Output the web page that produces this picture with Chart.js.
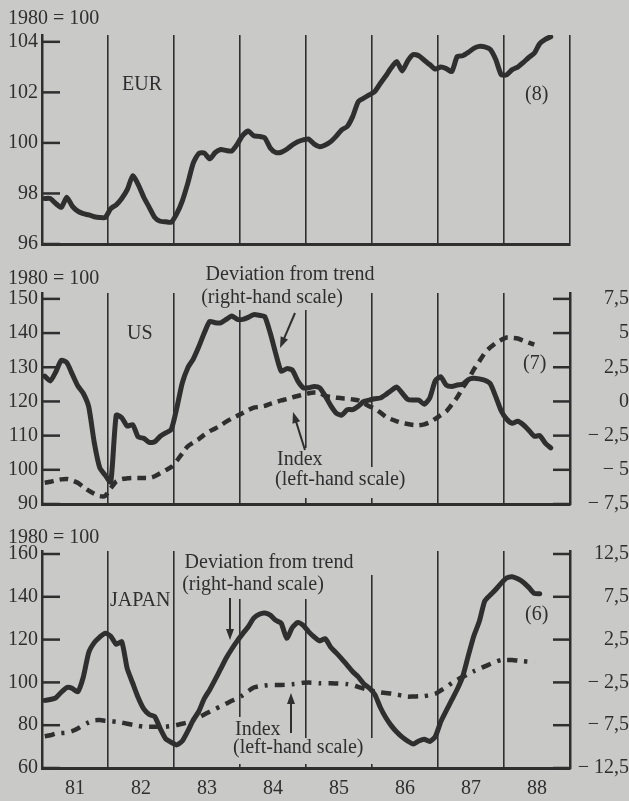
<!DOCTYPE html>
<html>
<head>
<meta charset="utf-8">
<script src="https://cdn.jsdelivr.net/npm/chart.js@4.4.1/dist/chart.umd.min.js"></script>
<style>
  body { margin: 0; background: #c9c9c8; }
  #wrap { position: relative; width: 629px; height: 801px; }
  canvas { position: absolute; left: 0; }
</style>
</head>
<body>
<div id="wrap">
  <canvas id="eur" width="629" height="260" style="top:0"></canvas>
  <canvas id="us" width="629" height="260" style="top:260px"></canvas>
  <canvas id="jp" width="629" height="281" style="top:520px"></canvas>
</div>
<script>
// monthly points from Jan 1981, year boundaries as grid
const years = [1981, 1982, 1983, 1984, 1985, 1986, 1987, 1988, 1989];
const months = Array.from({ length: 93 }, (_, i) => 1981 + (i + 0.5) / 12);

// EUR index (1980 = 100)
const eurIndex = [
  97.8, 97.8, 97.6, 97.45, 97.85, 97.5, 97.3, 97.2, 97.15, 97.08, 97.05, 97.05,
  97.4, 97.55, 97.8, 98.15, 98.7, 98.35, 97.85, 97.45, 97.05, 96.9, 96.88, 96.86,
  97.2, 97.7, 98.4, 99.2, 99.58, 99.6, 99.37, 99.62, 99.74, 99.7, 99.68, 99.95,
  100.3, 100.47, 100.28, 100.26, 100.2, 99.8, 99.62, 99.63, 99.75, 99.92, 100.05, 100.12,
  100.15, 99.95, 99.85, 99.92, 100.05, 100.27, 100.52, 100.65, 101.05, 101.63, 101.77, 101.9,
  102.03, 102.35, 102.65, 102.97, 103.22, 102.85, 103.25, 103.5, 103.45, 103.27, 103.1, 102.92,
  103.0, 102.94, 102.82, 103.42, 103.45, 103.58, 103.74, 103.82, 103.8, 103.7, 103.3, 102.7,
  102.7, 102.9, 103.0, 103.18, 103.38, 103.55, 103.93, 104.1, 104.2
];

// US: deviation from trend (right) and index (left)
const usDeviation = [
  1.85, 1.5, 2.15, 3.0, 2.85, 2.0, 1.15, 0.6, -0.4, -3.0, -4.85, -5.4,
  -5.9, -1.0, -1.2, -1.8, -1.7, -2.6, -2.7, -3.0, -2.95, -2.55, -2.3, -2.05,
  -0.5, 1.35, 2.45, 3.1, 4.0, 5.0, 5.85, 5.75, 5.75, 6.0, 6.25, 6.0,
  6.0, 6.15, 6.35, 6.3, 6.2, 5.0, 3.5, 2.2, 2.4, 2.3, 1.5, 1.0,
  1.0, 1.1, 1.0, 0.4, -0.3, -0.85, -1.0, -0.6, -0.6, -0.35, 0.0, 0.1,
  0.2, 0.25, 0.5, 0.8, 1.05, 0.6, 0.15, 0.1, 0.1, -0.2, 0.25, 1.5,
  1.8, 1.2, 1.1, 1.2, 1.25, 1.6, 1.7, 1.65, 1.55, 1.3, 0.35, -0.7,
  -1.3, -1.6, -1.45, -1.7, -2.1, -2.55, -2.5, -3.05, -3.4
];
const usIndex = [
  96.2, 96.5, 96.9, 97.2, 97.3, 96.9, 96.2, 95.0, 93.9, 93.0, 92.3, 92.4,
  94.6, 96.6, 97.3, 97.5, 97.6, 97.6, 97.6, 97.6, 98.1, 99.0, 99.9, 100.8,
  102.6, 104.8, 106.9, 108.0, 109.0, 110.2, 111.3, 112.1, 113.0, 114.1, 115.0, 115.8,
  116.6, 117.5, 118.2, 118.4, 118.7, 119.3, 119.8, 120.3, 120.7, 121.2, 121.6, 122.0,
  122.4, 122.6, 122.5, 121.6, 121.3, 121.1, 120.9, 120.8, 120.6, 120.3, 119.5, 118.6,
  117.9, 116.8, 115.5, 114.8, 114.2, 113.7, 113.4, 113.1, 113.0, 113.3, 113.9, 114.9,
  116.0, 117.1, 119.1, 121.2, 124.0, 126.4, 129.3, 131.7, 134.2, 135.8, 137.1, 138.0,
  138.7, 138.6, 138.4, 137.8, 137.2, 136.6
];

// Japan: deviation from trend (right) and index (left)
const jpDeviation = [
  -4.6, -4.5, -4.3, -3.65, -3.1, -3.2, -3.6, -1.9, 1.0, 2.15, 2.8, 3.25,
  2.9, 1.95, 2.25, -0.9, -2.6, -4.3, -5.6, -6.25, -6.5, -7.9, -9.1, -9.5,
  -9.8, -9.35, -8.2, -6.9, -5.9, -4.4, -3.35, -2.15, -0.9, 0.35, 1.4, 2.35,
  3.2, 4.0, 5.0, 5.45, 5.6, 5.35, 4.75, 4.4, 2.65, 3.9, 4.5, 4.15,
  3.4, 2.8, 2.35, 2.6, 1.6, 0.95, 0.25, -0.5, -1.25, -1.85, -2.65, -3.15,
  -3.9, -5.4, -6.6, -7.55, -8.3, -8.9, -9.35, -9.7, -9.35, -9.15, -9.4, -8.85,
  -7.1, -5.8, -4.55, -3.3, -1.8, 0.6, 2.9, 4.6, 7.0, 7.7, 8.35, 9.1,
  9.7, 9.85, 9.6, 9.2, 8.6, 7.9, 7.85
];
const jpIndex = [
  74.8, 75.3, 76.1, 76.3, 76.5, 77.3, 78.5, 80.0, 81.3, 82.3, 82.4, 82.1,
  81.9, 81.6, 81.2, 80.7, 80.2, 79.7, 79.3, 79.3, 79.3, 79.3, 79.3, 79.6,
  80.1, 80.7, 81.3, 82.4, 83.7, 85.0, 86.3, 87.6, 88.8, 90.1, 91.4, 92.6,
  94.0, 95.9, 97.6, 98.2, 98.5, 98.8, 98.8, 98.8, 98.9, 99.1, 99.4, 99.8,
  99.9, 99.8, 99.6, 99.6, 99.6, 99.5, 99.4, 99.2, 98.7, 97.9, 97.1, 96.4,
  95.8, 95.3, 95.0, 94.8, 94.3, 93.8, 93.3, 93.4, 93.5, 93.6, 94.1, 94.7,
  96.2, 97.8, 99.7, 101.2, 102.6, 103.9, 105.2, 106.3, 107.5, 108.6, 109.7, 110.5,
  110.5, 110.5, 110.2, 109.9, 109.7, 109.7
];

// tick labels
const eurTicks = [96, 98, 100, 102, 104];
const usLeftTicks = [90, 100, 110, 120, 130, 140, 150];
const usRightTicks = [-7.5, -5, -2.5, 0, 2.5, 5, 7.5];
const jpLeftTicks = [60, 80, 100, 120, 140, 160];
const jpRightTicks = [-12.5, -7.5, -2.5, 2.5, 7.5, 12.5];

const INK = '#2f2f2f';
const PAPER = '#c9c9c8';
const SERIF = '"Liberation Serif", "Times New Roman", serif';
const font = { family: SERIF, size: 20 };

const fmtRight = v => (v < 0 ? '\u2212 ' : '') + String(Math.abs(v)).replace('.', ',');

// draws the paper, inner tick marks, labels (knocking out the grid) and arrows
function paper(notes, arrows) {
  return {
    id: 'paper',
    beforeDraw(chart) {
      const ctx = chart.ctx;
      ctx.save();
      ctx.fillStyle = PAPER;
      ctx.fillRect(0, 0, chart.width, chart.height);
      ctx.restore();
    },
    beforeDatasetsDraw(chart) {
      const { ctx, chartArea: a, scales } = chart;
      ctx.save();
      ctx.strokeStyle = INK;
      ctx.lineWidth = 2.5;
      ['y', 'y2'].forEach(id => {
        const s = scales[id];
        if (!s) return;
        s.ticks.forEach(t => {
          const py = s.getPixelForValue(t.value);
          ctx.beginPath();
          if (id === 'y') { ctx.moveTo(a.left, py); ctx.lineTo(a.left + 18, py); }
          else { ctx.moveTo(a.right - 17, py); ctx.lineTo(a.right, py); }
          ctx.stroke();
        });
      });
      ctx.font = '20px ' + SERIF;
      ctx.textBaseline = 'middle';
      notes.forEach(n => {
        if (n.box) {
          ctx.fillStyle = PAPER;
          ctx.fillRect(n.box[0], n.box[1], n.box[2], n.box[3]);
        }
        ctx.fillStyle = INK;
        ctx.textAlign = n.align || 'left';
        ctx.fillText(n.text, n.x, n.y);
      });
      ctx.lineWidth = 2;
      ctx.fillStyle = INK;
      arrows.forEach(([x1, y1, x2, y2]) => {
        const ang = Math.atan2(y2 - y1, x2 - x1);
        ctx.beginPath();
        ctx.moveTo(x1, y1);
        ctx.lineTo(x2 - 8 * Math.cos(ang), y2 - 8 * Math.sin(ang));
        ctx.stroke();
        ctx.beginPath();
        ctx.moveTo(x2, y2);
        ctx.lineTo(x2 - 11 * Math.cos(ang) + 4 * Math.sin(ang), y2 - 11 * Math.sin(ang) - 4 * Math.cos(ang));
        ctx.lineTo(x2 - 11 * Math.cos(ang) - 4 * Math.sin(ang), y2 - 11 * Math.sin(ang) + 4 * Math.cos(ang));
        ctx.closePath();
        ctx.fill();
      });
      ctx.restore();
    }
  };
}

function yAxis(pos, min, max, ticks, width, fmt) {
  return {
    position: pos, min: min, max: max,
    afterBuildTicks: s => { s.ticks = ticks.map(v => ({ value: v })); },
    afterFit: s => { s.width = width; },
    grid: { display: false, drawTicks: false },
    border: { display: true, color: INK, width: 2.5 },
    ticks: {
      font: font, color: INK, padding: 4,
      crossAlign: pos === 'right' ? 'far' : 'near',
      callback: fmt || (v => String(v))
    }
  };
}

function panel(id, cfg) {
  const scales = {
    x: {
      type: 'linear', min: 1981, max: 1989,
      afterBuildTicks: s => { s.ticks = years.map(v => ({ value: v })); },
      afterFit: s => { s.height = cfg.xHeight; },
      grid: { display: true, drawTicks: false, color: INK, lineWidth: 1.6 },
      border: { display: true, color: INK, width: 3 },
      ticks: {
        display: !!cfg.showYears, font: font, color: INK, padding: 9, labelOffset: 33,
        maxRotation: 0, autoSkip: false,
        callback: v => (v < 1989 ? String(v).slice(2) : '')
      }
    },
    y: yAxis('left', cfg.left[0], cfg.left[1], cfg.left[2], 42)
  };
  if (cfg.right) scales.y2 = yAxis('right', cfg.right[0], cfg.right[1], cfg.right[2], 59, fmtRight);

  new Chart(document.getElementById(id), {
    type: 'line',
    data: { labels: months, datasets: cfg.datasets },
    options: {
      responsive: false, animation: false, devicePixelRatio: 1,
      layout: { padding: { top: cfg.top, right: cfg.right ? 0 : 59, left: 0, bottom: 0 } },
      plugins: { legend: { display: false }, tooltip: { enabled: false } },
      elements: { point: { radius: 0 }, line: { tension: 0.2 } },
      scales: scales
    },
    plugins: [paper(cfg.notes, cfg.arrows)]
  });
}

const solid = (data, axis) => ({
  data: data, yAxisID: axis, borderColor: INK, borderWidth: 5,
  borderJoinStyle: 'round', borderCapStyle: 'round', fill: false
});
const dashed = (data, dash) => ({
  data: data, yAxisID: 'y', borderColor: INK, borderWidth: 4.5,
  borderDash: dash, borderCapStyle: 'butt', fill: false
});

panel('eur', {
  top: 35, xHeight: 11,
  left: [96, 104.27, eurTicks],
  datasets: [solid(eurIndex, 'y')],
  notes: [
    { text: '1980 = 100', x: 8, y: 19 },
    { text: 'EUR', x: 122, y: 85 },
    { text: '(8)', x: 525, y: 95 }
  ],
  arrows: []
});

panel('us', {
  top: 33, xHeight: 12,
  left: [90, 151.72, usLeftTicks],
  right: [-7.5, 7.93, usRightTicks],
  datasets: [solid(usDeviation, 'y2'), dashed(usIndex, [9, 6])],
  notes: [
    { text: '1980 = 100', x: 8, y: 19 },
    { text: 'US', x: 127, y: 74 },
    { text: 'Deviation from trend', x: 290, y: 15, align: 'center' },
    { text: '(right-hand scale)', x: 272, y: 38, align: 'center', box: [198, 27, 150, 23] },
    { text: '(7)', x: 523, y: 104 },
    { text: 'Index', x: 277, y: 200, box: [272, 188, 52, 20] },
    { text: '(left-hand scale)', x: 275, y: 220, box: [270, 207, 140, 31] }
  ],
  arrows: [[295, 53, 280, 88], [305, 190, 293, 152]]
});

panel('jp', {
  top: 31, xHeight: 33, showYears: true,
  left: [60, 161.4, jpLeftTicks],
  right: [-12.5, 12.85, jpRightTicks],
  datasets: [solid(jpDeviation, 'y2'), dashed(jpIndex, [10, 7, 3, 7])],
  notes: [
    { text: '1980 = 100', x: 8, y: 18 },
    { text: 'JAPAN', x: 110, y: 81 },
    { text: 'Deviation from trend', x: 269, y: 43, align: 'center', box: [180, 31, 200, 24] },
    { text: '(right-hand scale)', x: 253, y: 65, align: 'center', box: [180, 54, 150, 25] },
    { text: '(6)', x: 525, y: 95 },
    { text: 'Index', x: 235, y: 210, box: [230, 197, 52, 22] },
    { text: '(left-hand scale)', x: 233, y: 228, box: [228, 218, 152, 26] }
  ],
  arrows: [[230, 78, 230, 120], [291, 213, 291, 173]]
});
</script>
</body>
</html>
